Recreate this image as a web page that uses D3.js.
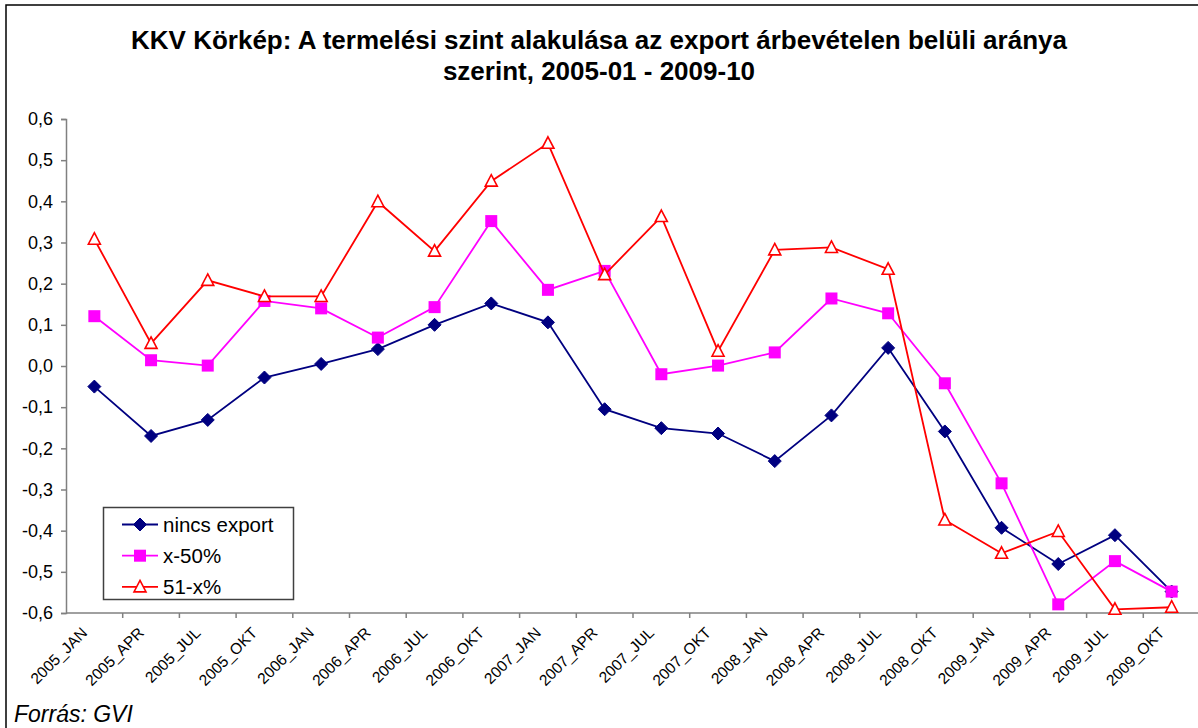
<!DOCTYPE html>
<html><head><meta charset="utf-8">
<script src="https://cdn.jsdelivr.net/npm/d3@7"></script>
<style>body{margin:0;background:#fff;}svg{display:block;font-family:"Liberation Sans",Arial,sans-serif;}</style>
</head><body>
<svg id="c" width="1198" height="728"></svg>
<script>
const categories = ["2005_JAN","2005_APR","2005_JUL","2005_OKT","2006_JAN","2006_APR","2006_JUL","2006_OKT","2007_JAN","2007_APR","2007_JUL","2007_OKT","2008_JAN","2008_APR","2008_JUL","2008_OKT","2009_JAN","2009_APR","2009_JUL","2009_OKT"];
const ninchExport = [-0.050,-0.170,-0.131,-0.028,0.005,0.041,0.100,0.152,0.106,-0.105,-0.151,-0.164,-0.231,-0.120,0.044,-0.159,-0.393,-0.481,-0.411,-0.548];
const x50 = [0.121,0.014,0.001,0.158,0.140,0.069,0.143,0.352,0.185,0.231,-0.020,0.001,0.033,0.164,0.128,-0.042,-0.285,-0.579,-0.474,-0.548];
const x51 = [0.308,0.055,0.208,0.169,0.169,0.399,0.279,0.449,0.541,0.222,0.363,0.036,0.282,0.288,0.235,-0.374,-0.455,-0.402,-0.591,-0.586];
const yTicks = [0.6,0.5,0.4,0.3,0.2,0.1,0,-0.1,-0.2,-0.3,-0.4,-0.5,-0.6];
const seriesNames = ["nincs export","x-50%","51-x%"];
const titleLines = ["KKV Körkép: A termelési szint alakulása az export árbevételen belüli aránya","szerint, 2005-01 - 2009-10"];
const sourceText = "Forrás: GVI";

const series = [
  {name: seriesNames[0], values: ninchExport, color: "#000080", shape: "diamond"},
  {name: seriesNames[1], values: x50, color: "#FF00FF", shape: "square"},
  {name: seriesNames[2], values: x51, color: "#FF0000", shape: "triangle"}
];

const svg = d3.select("#c");
// outer border
svg.append("rect").attr("x",6).attr("y",5).attr("width",1250).attr("height",760)
  .attr("fill","none").attr("stroke","#000").attr("stroke-width",1.5);

const x = d3.scaleBand().domain(categories).range([66, 66 + 20*56.7]);
const y = d3.scaleLinear().domain([-0.6,0.6]).range([613,119]);

// title
svg.append("g").selectAll("text").data(titleLines).join("text")
  .attr("x",599).attr("y",(d,i)=>49+i*31)
  .attr("text-anchor","middle").attr("font-weight","bold").attr("font-size",26)
  .attr("fill","#000").text(d=>d);

// y axis
const fmt = v => d3.format(".1f")(v).replace(".",",").replace("−","-");
const yAxis = d3.axisLeft(y).tickValues(yTicks).tickSize(5).tickPadding(8).tickFormat(fmt);
const gy = svg.append("g").attr("transform","translate(66,0)").call(yAxis);
gy.select(".domain").attr("stroke","#808080").attr("stroke-width",1.5);
gy.selectAll(".tick line").attr("stroke","#808080").attr("stroke-width",1.5);
gy.selectAll(".tick text").attr("font-size",18).attr("fill","#000").attr("font-family","Liberation Sans, Arial, sans-serif");

// x axis
const gx = svg.append("g").attr("transform","translate(0,613)");
gx.append("line").attr("x1",66).attr("x2",1200).attr("y1",0).attr("y2",0).attr("stroke","#808080").attr("stroke-width",1.5);
const bounds = categories.map(c => x(c)).concat([x(categories[categories.length-1]) + x.bandwidth()]);
gx.selectAll("line.t").data(bounds.slice(1)).join("line").attr("class","t")
  .attr("x1",d=>d).attr("x2",d=>d).attr("y1",0).attr("y2",5).attr("stroke","#808080").attr("stroke-width",1.5);
gx.selectAll("text").data(categories).join("text")
  .attr("transform",d=>`translate(${x(d)+x.bandwidth()/2-10},${17}) rotate(-45)`)
  .attr("text-anchor","end").attr("dy","0.35em").attr("font-size",15.5).attr("fill","#000").text(d=>d);

// markers
function drawMarker(g, shape, color) {
  if (shape==="diamond") {
    g.append("path").attr("d","M0,-6.5L6.5,0L0,6.5L-6.5,0Z").attr("fill",color).attr("stroke",color).attr("stroke-width",1);
  } else if (shape==="square") {
    g.append("rect").attr("x",-6).attr("y",-6).attr("width",12).attr("height",12).attr("fill",color);
  } else {
    g.append("path").attr("d","M0,-6.5L6,5L-6,5Z").attr("fill","#fff").attr("stroke",color).attr("stroke-width",1.6);
  }
}

const line = d3.line().x((d,i)=>x(categories[i])+x.bandwidth()/2).y(d=>y(d));
series.forEach(s => {
  const g = svg.append("g");
  g.append("path").attr("d",line(s.values)).attr("fill","none").attr("stroke",s.color).attr("stroke-width",1.8);
  s.values.forEach((v,i) => {
    const m = g.append("g").attr("transform",`translate(${x(categories[i])+x.bandwidth()/2},${y(v)})`);
    drawMarker(m, s.shape, s.color);
  });
});

// legend
const lg = svg.append("g");
lg.append("rect").attr("x",103.5).attr("y",507.5).attr("width",190).attr("height",92)
  .attr("fill","#fff").attr("stroke","#404040").attr("stroke-width",1.5);
series.forEach((s,i) => {
  const yy = 524.5 + i*31.2;
  lg.append("line").attr("x1",122).attr("x2",158).attr("y1",yy).attr("y2",yy).attr("stroke",s.color).attr("stroke-width",1.8);
  const m = lg.append("g").attr("transform",`translate(140,${yy})`);
  drawMarker(m, s.shape, s.color);
  lg.append("text").attr("x",163).attr("y",yy).attr("dy","0.35em").attr("font-size",20.5).attr("fill","#000").text(s.name);
});

// source
svg.append("text").attr("x",14).attr("y",722).attr("font-size",23).attr("font-style","italic").attr("fill","#000").text(sourceText);
</script>
</body></html>
